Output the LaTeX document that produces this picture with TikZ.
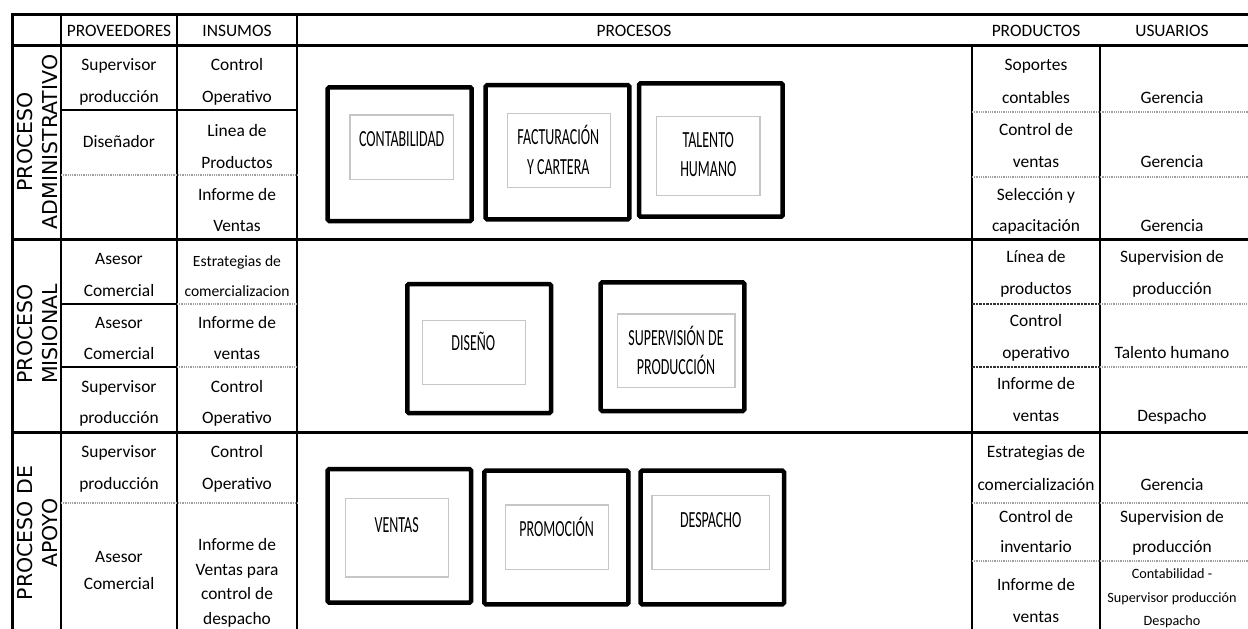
\documentclass[tikz,border=0pt]{standalone}
\usepackage{fontspec}
\setmainfont{Carlito}
\newfontfamily\labfont{DejaVu Sans}
\usepackage{graphicx}
\newcommand{\bx}[1]{\scalebox{1}[1.65]{#1}}
\begin{document}
\begin{tikzpicture}[x=1pt,y=-1pt,
  cell/.style={inner sep=0pt, anchor=base, font=\fontsize{17.4}{20}\selectfont},
  cellsm/.style={inner sep=0pt, anchor=base, font=\fontsize{15.6}{18}\selectfont},
  cellxs/.style={inner sep=0pt, anchor=base, font=\fontsize{14.2}{16}\selectfont},
  boxtxt/.style={inner sep=0pt, anchor=base, font=\fontsize{14}{16}\selectfont},
  lab/.style={inner sep=0pt, rotate=90, font=\labfont\fontsize{20.5}{22}\selectfont},
  frame/.style={line width=3pt, black},
  vline/.style={line width=2.2pt, black},
  hsolid/.style={line width=1.8pt, black},
  hdot/.style={line width=1.1pt, gray!75, dash pattern=on 1pt off 0.8pt},
  hdash/.style={line width=1.3pt, black!80, dash pattern=on 2.5pt off 1pt},
  obox/.style={line width=4.5pt, black, rounded corners=1.5pt},
  ibox/.style={line width=1.4pt, gray!45}]
\useasboundingbox (0,0) rectangle (1248,629);
\clip (0,0) rectangle (1248,629);
\fill[white] (0,0) rectangle (1248,629);

% ---------- table lines ----------
\draw[vline] (61,14) -- (61,650);
\draw[vline] (177,14) -- (177,650);
\draw[vline] (297,14) -- (297,650);
\draw[vline] (972,45) -- (972,650);
\draw[vline] (1100,45) -- (1100,650);

\draw[hsolid] (61,110) -- (297,110);
\draw[hdot] (61,175) -- (297,175);
\draw[hsolid] (61,304) -- (177,304);
\draw[hdot] (177,304) -- (297,304);
\draw[hsolid] (61,367) -- (177,367);
\draw[hdot] (177,367) -- (297,367);
\draw[hdot] (61,503) -- (297,503);

\draw[hdot] (972,112) -- (1260,112);
\draw[hdot] (972,177) -- (1260,177);
\draw[hdash] (972,304) -- (1100,304);
\draw[hdot] (1100,304) -- (1260,304);
\draw[hdash] (972,367) -- (1100,367);
\draw[hdot] (1100,367) -- (1260,367);
\draw[hdot] (972,503) -- (1260,503);
\draw[hdot] (972,561) -- (1260,561);

\draw[frame] (1260,14) -- (12,14) -- (12,650);
\draw[frame] (12,45) -- (1260,45);
\draw[frame] (12,239) -- (1260,239);
\draw[frame] (12,432) -- (1260,432);

% ---------- header ----------
\node[cell] (hprov) at (119,36.5) {PROVEEDORES};
\node[cell] (hins) at (237,36.5) {INSUMOS};
\node[cell] (hproc) at (634,36.5) {PROCESOS};
\node[cell] (hprod) at (1036,36.5) {PRODUCTOS};
\node[cell] (husu) at (1172,36.5) {USUARIOS};

% ---------- side labels ----------
\node[lab] (l1a) at (25,142) {PROCESO};
\node[lab] (l1b) at (50.5,142) {ADMINISTRATIVO};
\node[lab] (l2a) at (25,334) {PROCESO};
\node[lab] (l2b) at (50.5,334) {MISIONAL};
\node[lab] (l3a) at (25,533) {PROCESO DE};
\node[lab] (l3b) at (50.5,533) {APOYO};

% ---------- proveedores ----------
\node[cell] (p1a) at (119,70) {Supervisor};
\node[cell] (p1b) at (119,102.5) {producción};
\node[cell] (p2) at (119,147.5) {Diseñador};
\node[cell] (p4a) at (119,264) {Asesor};
\node[cell] (p4b) at (119,296) {Comercial};
\node[cell] (p5a) at (119,328) {Asesor};
\node[cell] (p5b) at (119,359.5) {Comercial};
\node[cell] (p6a) at (119,392) {Supervisor};
\node[cell] (p6b) at (119,423) {producción};
\node[cell] (p7a) at (119,457) {Supervisor};
\node[cell] (p7b) at (119,489) {producción};
\node[cell] (p8a) at (119,562) {Asesor};
\node[cell] (p8b) at (119,589) {Comercial};

% ---------- insumos ----------
\node[cell] (i1a) at (237,70) {Control};
\node[cell] (i1b) at (237,102.5) {Operativo};
\node[cell] (i2a) at (237,136) {Linea de};
\node[cell] (i2b) at (237,168) {Productos};
\node[cell] (i3a) at (237,200.5) {Informe de};
\node[cell] (i3b) at (237,231.5) {Ventas};
\node[cellsm] (i4a) at (237,266) {Estrategias de};
\node[cellsm] (i4b) at (237,296) {comercializacion};
\node[cell] (i5a) at (237,328) {Informe de};
\node[cell] (i5b) at (237,359.5) {ventas};
\node[cell] (i6a) at (237,392) {Control};
\node[cell] (i6b) at (237,423) {Operativo};
\node[cell] (i7a) at (237,457) {Control};
\node[cell] (i7b) at (237,489) {Operativo};
\node[cell] (i8a) at (237,550) {Informe de};
\node[cell] (i8b) at (237,575.5) {Ventas para};
\node[cell] (i8c) at (237,599) {control de};
\node[cell] (i8d) at (237,624) {despacho};

% ---------- productos ----------
\node[cell] (r1a) at (1036,70) {Soportes};
\node[cell] (r1b) at (1036,103) {contables};
\node[cell] (r2a) at (1036,135) {Control de};
\node[cell] (r2b) at (1036,167) {ventas};
\node[cell] (r3a) at (1036,200) {Selección y};
\node[cell] (r3b) at (1036,231) {capacitación};
\node[cell] (r4a) at (1036,262) {Línea de};
\node[cell] (r4b) at (1036,294.5) {productos};
\node[cell] (r5a) at (1036,326) {Control};
\node[cell] (r5b) at (1036,358) {operativo};
\node[cell] (r6a) at (1036,389) {Informe de};
\node[cell] (r6b) at (1036,421) {ventas};
\node[cell] (r7a) at (1036,457) {Estrategias de};
\node[cell] (r7b) at (1036,490) {comercialización};
\node[cell] (r8a) at (1036,522) {Control de};
\node[cell] (r8b) at (1036,552) {inventario};
\node[cell] (r9a) at (1036,590) {Informe de};
\node[cell] (r9b) at (1036,622) {ventas};

% ---------- usuarios ----------
\node[cell] (u1) at (1172,103) {Gerencia};
\node[cell] (u2) at (1172,167) {Gerencia};
\node[cell] (u3) at (1172,231) {Gerencia};
\node[cell] (u4a) at (1172,262) {Supervision de};
\node[cell] (u4b) at (1172,294.5) {producción};
\node[cell] (u5) at (1172,358) {Talento humano};
\node[cell] (u6) at (1172,421) {Despacho};
\node[cell] (u7) at (1172,490) {Gerencia};
\node[cell] (u8a) at (1172,522) {Supervision de};
\node[cell] (u8b) at (1172,552) {producción};
\node[cellxs] (u9a) at (1172,578) {Contabilidad -};
\node[cellxs] (u9b) at (1172,602) {Supervisor producción};
\node[cellxs] (u9c) at (1172,625) {Despacho};

% ---------- process boxes: administrativo ----------
\draw[obox] (327.7,87.3) rectangle (471.7,221);
\draw[ibox] (350,115) rectangle (453.7,179.3);
\node[boxtxt] (tcont) at (401.7,146.5) {\bx{CONTABILIDAD}};

\draw[obox] (485.7,85) rectangle (629.3,219.3);
\draw[ibox] (507.3,113.3) rectangle (610.7,187.7);
\node[boxtxt] (tfac1) at (558.3,144.8) {\bx{FACTURACIÓN}};
\node[boxtxt] (tfac2) at (558.3,174.8) {\bx{Y CARTERA}};

\draw[obox] (639,83.3) rectangle (782.7,216.7);
\draw[ibox] (656.7,116.7) rectangle (760,195.7);
\node[boxtxt] (ttal1) at (708.3,147.5) {\bx{TALENTO}};
\node[boxtxt] (ttal2) at (708.3,176.5) {\bx{HUMANO}};

% ---------- process boxes: misional ----------
\draw[obox] (407.3,284) rectangle (551,413);
\draw[ibox] (422.7,320.7) rectangle (525.7,384.3);
\node[boxtxt] (tdis) at (473.3,350.8) {\bx{DISEÑO}};

\draw[obox] (600.7,282.3) rectangle (744.3,411);
\draw[ibox] (617.3,314) rectangle (735,387.7);
\node[boxtxt] (tsup1) at (676,345.2) {\bx{SUPERVISIÓN DE}};
\node[boxtxt] (tsup2) at (676,374.2) {\bx{PRODUCCIÓN}};

% ---------- process boxes: apoyo ----------
\draw[obox] (327.7,469) rectangle (471,602.7);
\draw[ibox] (345.7,498.7) rectangle (448.3,577);
\node[boxtxt] (tven) at (396.7,532.5) {\bx{VENTAS}};

\draw[obox] (484.3,470.7) rectangle (628.3,604.3);
\draw[ibox] (505.3,505) rectangle (608.3,569.3);
\node[boxtxt] (tpro) at (556.7,536.8) {\bx{PROMOCIÓN}};

\draw[obox] (640.7,470.7) rectangle (784,604.3);
\draw[ibox] (652,495.3) rectangle (769.3,569.3);
\node[boxtxt] (tdes) at (710.7,527.5) {\bx{DESPACHO}};
\end{tikzpicture}
\end{document}
